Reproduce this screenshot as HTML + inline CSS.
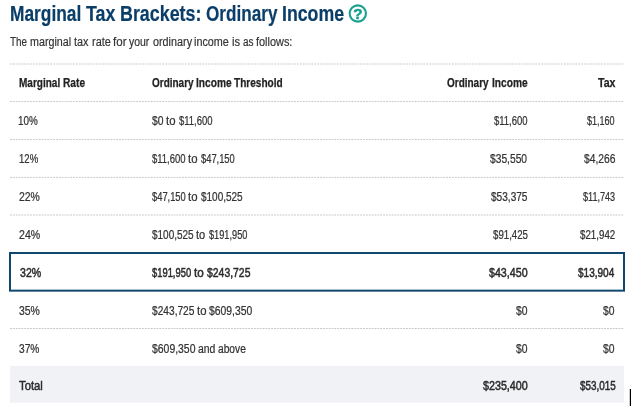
<!DOCTYPE html>
<html lang="en">
<head>
<meta charset="utf-8">
<title>Marginal Tax Brackets: Ordinary Income</title>
<style>
html,body{margin:0;padding:0;background:#fff;}
body{width:631px;height:406px;position:relative;overflow:hidden;font-family:"Liberation Sans", Arial, sans-serif;}
h1,p,table,thead,tbody,tr,th,td{display:block;margin:0;padding:0;border:0;font-size:0;font-weight:400;}
.w{position:absolute;display:block;white-space:nowrap;line-height:1;transform-origin:0 0;}
.deco{position:absolute;left:0;top:0;width:631px;height:406px;}
.title .w{font-size:22.30px;font-weight:700;-webkit-text-stroke:0.21px currentColor;}
.sub .w{font-size:12.00px;font-weight:400;-webkit-text-stroke:0.18px currentColor;}
.head .w{font-size:12.60px;font-weight:700;-webkit-text-stroke:0.25px currentColor;}
.body .w{font-size:12.00px;font-weight:400;-webkit-text-stroke:0.24px currentColor;}
.strong .w{font-size:12.00px;font-weight:400;-webkit-text-stroke:0.48px currentColor;}
</style>
</head>
<body>
<svg class="deco" viewBox="0 0 631 406">
<rect x="10" y="366" width="614" height="36.6" fill="#f1f2f6"/>
<line x1="10" x2="624.3" y1="64.00" y2="64.00" stroke="#c9c9c9" stroke-width="1" stroke-dasharray="1.9 0.97"/>
<line x1="10" x2="624.3" y1="101.55" y2="101.55" stroke="#c9c9c9" stroke-width="1" stroke-dasharray="1.9 0.97"/>
<line x1="10" x2="624.3" y1="139.45" y2="139.45" stroke="#c9c9c9" stroke-width="1" stroke-dasharray="1.9 0.97"/>
<line x1="10" x2="624.3" y1="177.40" y2="177.40" stroke="#c9c9c9" stroke-width="1" stroke-dasharray="1.9 0.97"/>
<line x1="10" x2="624.3" y1="215.00" y2="215.00" stroke="#c9c9c9" stroke-width="1" stroke-dasharray="1.9 0.97"/>
<line x1="10" x2="624.3" y1="328.50" y2="328.50" stroke="#c9c9c9" stroke-width="1" stroke-dasharray="1.9 0.97"/>
<rect x="10" y="253" width="614" height="37.65" fill="none" stroke="#10486f" stroke-width="2"/>
<rect x="629.8" y="389" width="1.2" height="17" fill="#000"/>
<circle cx="357.8" cy="13.5" r="8.15" fill="#fff" stroke="#18a090" stroke-width="2.1"/>
<text x="357.9" y="19" text-anchor="middle" font-family='"Liberation Sans", Arial, sans-serif' font-weight="700" font-size="15.2" fill="#18a090" stroke="#18a090" stroke-width="0.5">?</text>
</svg>
<h1 class="title" style="color:#0a3e68"><span class="w" style="left:10.03px;top:3.00px;transform:scaleX(0.7775)">Marginal</span> <span class="w" style="left:86.00px;top:3.00px;transform:scaleX(0.8000)">Tax</span> <span class="w" style="left:120.25px;top:3.00px;transform:scaleX(0.8010)">Brackets:</span> <span class="w" style="left:206.18px;top:3.00px;transform:scaleX(0.7684)">Ordinary</span> <span class="w" style="left:282.26px;top:3.00px;transform:scaleX(0.7954)">Income</span></h1>
<p class="sub" style="color:#333"><span class="w" style="left:10.29px;top:36.00px;transform:scaleX(0.8250)">The</span> <span class="w" style="left:30.33px;top:36.00px;transform:scaleX(0.8933)">marginal</span> <span class="w" style="left:74.27px;top:36.00px;transform:scaleX(0.9032)">tax</span> <span class="w" style="left:91.57px;top:36.00px;transform:scaleX(0.9103)">rate</span> <span class="w" style="left:113.01px;top:36.00px;transform:scaleX(0.9630)">for</span> <span class="w" style="left:129.25px;top:36.00px;transform:scaleX(0.8710)">your</span> <span class="w" style="left:152.55px;top:36.00px;transform:scaleX(0.9006)">ordinary</span> <span class="w" style="left:194.32px;top:36.00px;transform:scaleX(0.9000)">income</span> <span class="w" style="left:231.80px;top:36.00px;transform:scaleX(0.9333)">is</span> <span class="w" style="left:242.59px;top:36.00px;transform:scaleX(0.8298)">as</span> <span class="w" style="left:255.77px;top:36.00px;transform:scaleX(0.9097)">follows:</span></p>
<table>
<thead>
<tr class="head" style="color:#222"><th><span class="w" style="left:18.95px;top:77.00px;transform:scaleX(0.7960)">Marginal</span> <span class="w" style="left:62.69px;top:77.00px;transform:scaleX(0.8095)">Rate</span></th><th><span class="w" style="left:151.50px;top:77.00px;transform:scaleX(0.7923)">Ordinary</span> <span class="w" style="left:195.79px;top:77.00px;transform:scaleX(0.8081)">Income</span> <span class="w" style="left:234.45px;top:77.00px;transform:scaleX(0.7992)">Threshold</span></th><th><span class="w" style="left:447.49px;top:77.00px;transform:scaleX(0.7923)">Ordinary</span> <span class="w" style="left:491.78px;top:77.00px;transform:scaleX(0.8081)">Income</span></th><th><span class="w" style="left:597.73px;top:77.00px;transform:scaleX(0.8395)">Tax</span></th></tr>
</thead>
<tbody>
<tr class="body" style="color:#333"><td><span class="w" style="left:18.48px;top:115.00px;transform:scaleX(0.8222)">10%</span></td><td><span class="w" style="left:151.68px;top:115.00px;transform:scaleX(0.8627)">$0</span> <span class="w" style="left:166.16px;top:115.00px;transform:scaleX(0.9459)">to</span> <span class="w" style="left:178.70px;top:115.00px;transform:scaleX(0.7904)">$11,600</span></td><td><span class="w" style="left:493.72px;top:115.00px;transform:scaleX(0.7904)">$11,600</span></td><td><span class="w" style="left:587.46px;top:115.00px;transform:scaleX(0.7500)">$1,160</span></td></tr>
<tr class="body" style="color:#333"><td><span class="w" style="left:18.50px;top:153.00px;transform:scaleX(0.8000)">12%</span></td><td><span class="w" style="left:151.70px;top:153.00px;transform:scaleX(0.7904)">$11,600</span> <span class="w" style="left:188.16px;top:153.00px;transform:scaleX(0.9459)">to</span> <span class="w" style="left:200.71px;top:153.00px;transform:scaleX(0.7778)">$47,150</span></td><td><span class="w" style="left:490.24px;top:153.00px;transform:scaleX(0.8538)">$35,550</span></td><td><span class="w" style="left:583.66px;top:153.00px;transform:scaleX(0.8542)">$4,266</span></td></tr>
<tr class="body" style="color:#333"><td><span class="w" style="left:18.87px;top:191.00px;transform:scaleX(0.8696)">22%</span></td><td><span class="w" style="left:151.71px;top:191.00px;transform:scaleX(0.7778)">$47,150</span> <span class="w" style="left:188.41px;top:191.00px;transform:scaleX(0.9459)">to</span> <span class="w" style="left:200.94px;top:191.00px;transform:scaleX(0.8325)">$100,525</span></td><td><span class="w" style="left:491.27px;top:191.00px;transform:scaleX(0.8412)">$53,375</span></td><td><span class="w" style="left:582.80px;top:191.00px;transform:scaleX(0.7545)">$11,743</span></td></tr>
<tr class="body" style="color:#333"><td><span class="w" style="left:18.86px;top:229.00px;transform:scaleX(0.8804)">24%</span></td><td><span class="w" style="left:151.69px;top:229.00px;transform:scaleX(0.8325)">$100,525</span> <span class="w" style="left:196.17px;top:229.00px;transform:scaleX(0.9189)">to</span> <span class="w" style="left:208.71px;top:229.00px;transform:scaleX(0.7665)">$191,950</span></td><td><span class="w" style="left:492.72px;top:229.00px;transform:scaleX(0.8059)">$91,425</span></td><td><span class="w" style="left:580.16px;top:229.00px;transform:scaleX(0.8118)">$21,942</span></td></tr>
<tr class="strong" style="color:#2a2a2a"><td><span class="w" style="left:19.66px;top:267.00px;transform:scaleX(0.8804)">32%</span></td><td><span class="w" style="left:152.30px;top:267.00px;transform:scaleX(0.7817)">$191,950</span> <span class="w" style="left:194.26px;top:267.00px;transform:scaleX(0.9730)">to</span> <span class="w" style="left:207.03px;top:267.00px;transform:scaleX(0.8680)">$243,725</span></td><td><span class="w" style="left:488.71px;top:267.00px;transform:scaleX(0.8889)">$43,450</span></td><td><span class="w" style="left:577.94px;top:267.00px;transform:scaleX(0.8363)">$13,904</span></td></tr>
<tr class="body" style="color:#333"><td><span class="w" style="left:18.87px;top:305.00px;transform:scaleX(0.8696)">35%</span></td><td><span class="w" style="left:151.69px;top:305.00px;transform:scaleX(0.8477)">$243,725</span> <span class="w" style="left:196.66px;top:305.00px;transform:scaleX(0.9459)">to</span> <span class="w" style="left:209.18px;top:305.00px;transform:scaleX(0.8629)">$609,350</span></td><td><span class="w" style="left:515.73px;top:305.00px;transform:scaleX(0.8627)">$0</span></td><td><span class="w" style="left:603.33px;top:305.00px;transform:scaleX(0.8627)">$0</span></td></tr>
<tr class="body" style="color:#333"><td><span class="w" style="left:18.88px;top:343.00px;transform:scaleX(0.8478)">37%</span></td><td><span class="w" style="left:151.68px;top:343.00px;transform:scaleX(0.8680)">$609,350</span> <span class="w" style="left:197.97px;top:343.00px;transform:scaleX(0.8667)">and</span> <span class="w" style="left:217.97px;top:343.00px;transform:scaleX(0.8504)">above</span></td><td><span class="w" style="left:515.73px;top:343.00px;transform:scaleX(0.8627)">$0</span></td><td><span class="w" style="left:603.33px;top:343.00px;transform:scaleX(0.8627)">$0</span></td></tr>
<tr class="strong" style="color:#2a2a2a"><td><span class="w" style="left:19.07px;top:380.00px;transform:scaleX(0.9381)">Total</span></td><td></td><td><span class="w" style="left:482.80px;top:380.00px;transform:scaleX(0.8934)">$235,400</span></td><td><span class="w" style="left:579.73px;top:380.00px;transform:scaleX(0.8235)">$53,015</span></td></tr>
</tbody>
</table>
</body>
</html>
